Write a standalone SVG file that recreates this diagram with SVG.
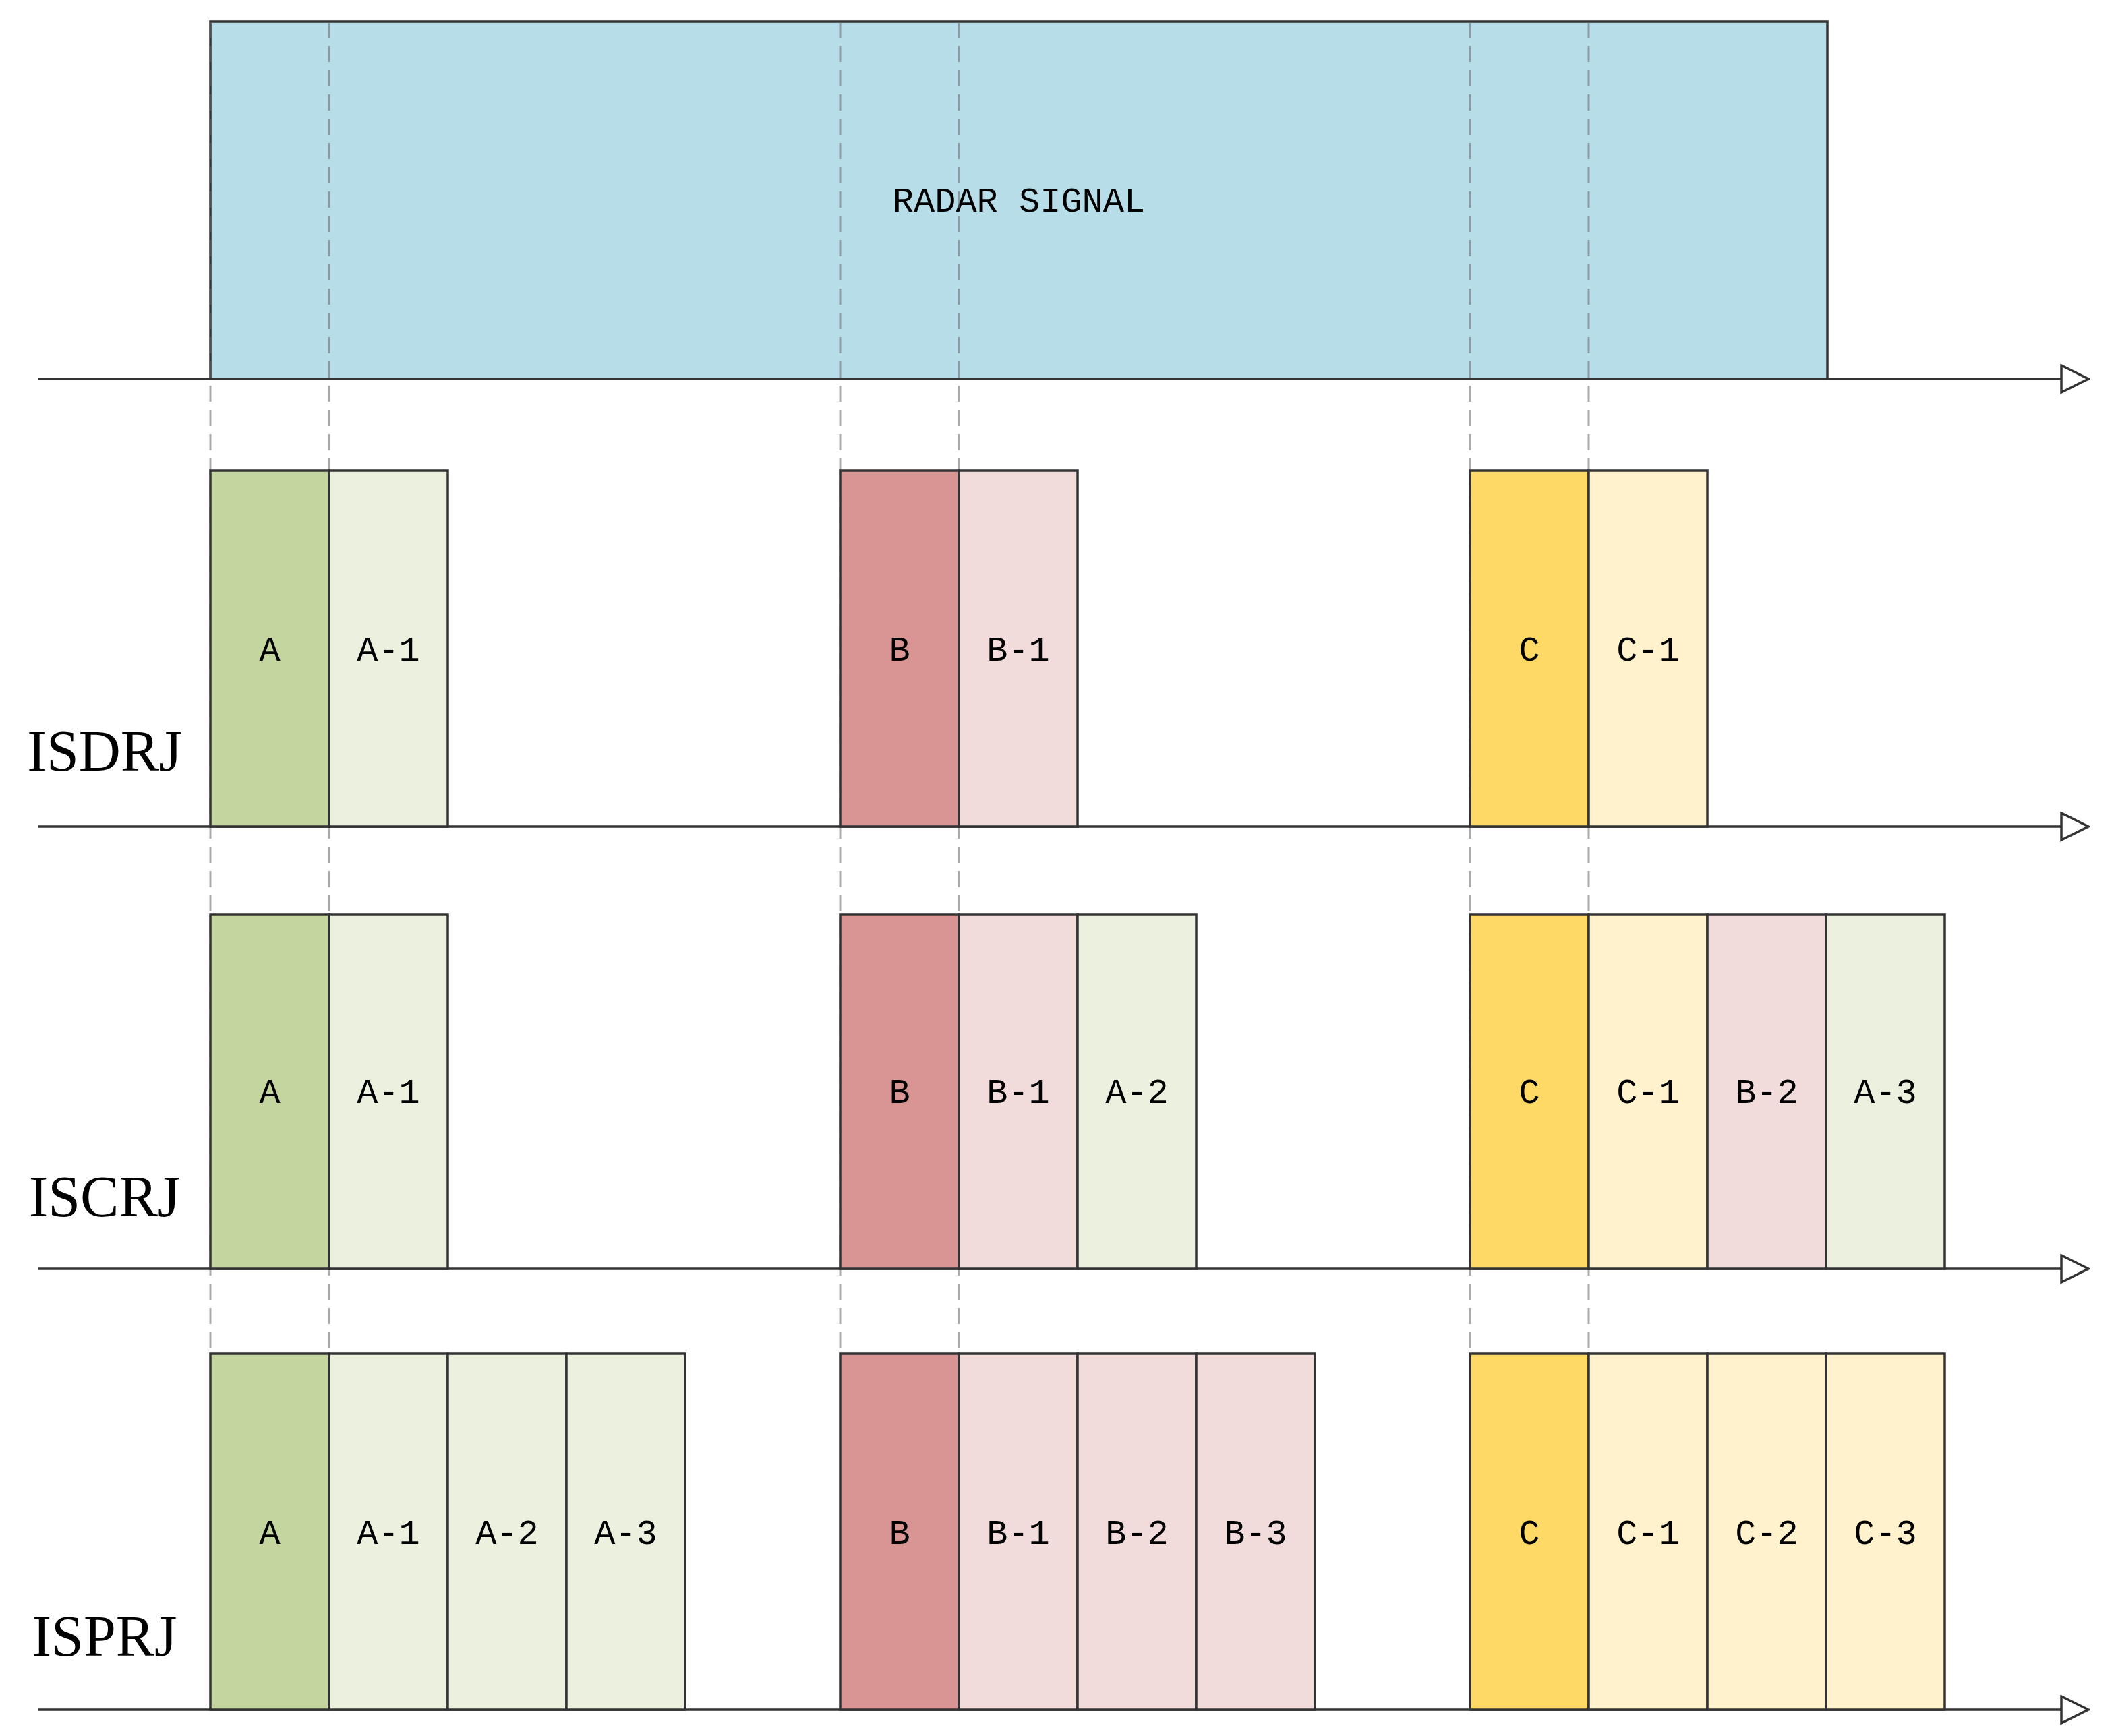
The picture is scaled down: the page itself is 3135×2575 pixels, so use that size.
<svg xmlns="http://www.w3.org/2000/svg" width="3135" height="2575" viewBox="0 0 3135 2575">
<style>
.cell{stroke:#333;stroke-width:3.5}
.ga{fill:#c4d59f}.gl{fill:#ebf1de}
.ra{fill:#d99594}.rl{fill:#f2dcdb}
.ya{fill:#fed966}.yl{fill:#fff2cc}
.t{font-family:"Liberation Mono","DejaVu Sans Mono",monospace;font-size:52px;fill:#000;text-anchor:middle}
.lab{font-family:"Liberation Serif","Times New Roman",serif;font-size:86px;fill:#000;text-anchor:middle}
.axis{stroke:#333;stroke-width:3.5;fill:none}
.dash{stroke:#666;stroke-opacity:0.55;stroke-width:3;stroke-dasharray:24 12;fill:none}
</style>
<defs>
<marker id="arr" markerUnits="userSpaceOnUse" markerWidth="44" markerHeight="46" refX="2" refY="22" orient="auto">
<path d="M2,2 L42,22 L2,42 Z" fill="#fff" stroke="#333" stroke-width="3.5"/>
</marker>
</defs>
<rect width="3135" height="2575" fill="#fff"/>
<g id="radar">
<rect x="312" y="32" width="2398" height="530" fill="#b7dde8" stroke="#333" stroke-width="3.5"/>
<text class="t" x="1511" y="314">RADAR SIGNAL</text>
</g>
<g id="connectors">
<line class="dash" x1="312" y1="32" x2="312" y2="2008"/>
<line class="dash" x1="488" y1="32" x2="488" y2="2008"/>
<line class="dash" x1="1246" y1="32" x2="1246" y2="2008"/>
<line class="dash" x1="1422" y1="32" x2="1422" y2="2008"/>
<line class="dash" x1="2180" y1="32" x2="2180" y2="2008"/>
<line class="dash" x1="2356" y1="32" x2="2356" y2="2008"/>
<line class="axis" x1="56" y1="562" x2="3057" y2="562" marker-end="url(#arr)"/>
<line class="axis" x1="56" y1="1226" x2="3057" y2="1226" marker-end="url(#arr)"/>
<line class="axis" x1="56" y1="1882" x2="3057" y2="1882" marker-end="url(#arr)"/>
<line class="axis" x1="56" y1="2536" x2="3057" y2="2536" marker-end="url(#arr)"/>
</g>
<g id="isdrj">
<text class="lab" x="155" y="1143">ISDRJ</text>
<g id="isdrj-A"><rect class="cell ga" x="312" y="698" width="176" height="528"/><text class="t" x="400" y="980">A</text></g>
<g id="isdrj-A1"><rect class="cell gl" x="488" y="698" width="176" height="528"/><text class="t" x="576" y="980">A-1</text></g>
<g id="isdrj-B"><rect class="cell ra" x="1246" y="698" width="176" height="528"/><text class="t" x="1334" y="980">B</text></g>
<g id="isdrj-B1"><rect class="cell rl" x="1422" y="698" width="176" height="528"/><text class="t" x="1510" y="980">B-1</text></g>
<g id="isdrj-C"><rect class="cell ya" x="2180" y="698" width="176" height="528"/><text class="t" x="2268" y="980">C</text></g>
<g id="isdrj-C1"><rect class="cell yl" x="2356" y="698" width="176" height="528"/><text class="t" x="2444" y="980">C-1</text></g>
</g>
<g id="iscrj">
<text class="lab" x="155" y="1804">ISCRJ</text>
<g id="iscrj-A"><rect class="cell ga" x="312" y="1356" width="176" height="526"/><text class="t" x="400" y="1636">A</text></g>
<g id="iscrj-A1"><rect class="cell gl" x="488" y="1356" width="176" height="526"/><text class="t" x="576" y="1636">A-1</text></g>
<g id="iscrj-B"><rect class="cell ra" x="1246" y="1356" width="176" height="526"/><text class="t" x="1334" y="1636">B</text></g>
<g id="iscrj-B1"><rect class="cell rl" x="1422" y="1356" width="176" height="526"/><text class="t" x="1510" y="1636">B-1</text></g>
<g id="iscrj-A2"><rect class="cell gl" x="1598" y="1356" width="176" height="526"/><text class="t" x="1686" y="1636">A-2</text></g>
<g id="iscrj-C"><rect class="cell ya" x="2180" y="1356" width="176" height="526"/><text class="t" x="2268" y="1636">C</text></g>
<g id="iscrj-C1"><rect class="cell yl" x="2356" y="1356" width="176" height="526"/><text class="t" x="2444" y="1636">C-1</text></g>
<g id="iscrj-B2"><rect class="cell rl" x="2532" y="1356" width="176" height="526"/><text class="t" x="2620" y="1636">B-2</text></g>
<g id="iscrj-A3"><rect class="cell gl" x="2708" y="1356" width="176" height="526"/><text class="t" x="2796" y="1636">A-3</text></g>
</g>
<g id="isprj">
<text class="lab" x="155" y="2456">ISPRJ</text>
<g id="isprj-A"><rect class="cell ga" x="312" y="2008" width="176" height="528"/><text class="t" x="400" y="2290">A</text></g>
<g id="isprj-A1"><rect class="cell gl" x="488" y="2008" width="176" height="528"/><text class="t" x="576" y="2290">A-1</text></g>
<g id="isprj-A2"><rect class="cell gl" x="664" y="2008" width="176" height="528"/><text class="t" x="752" y="2290">A-2</text></g>
<g id="isprj-A3"><rect class="cell gl" x="840" y="2008" width="176" height="528"/><text class="t" x="928" y="2290">A-3</text></g>
<g id="isprj-B"><rect class="cell ra" x="1246" y="2008" width="176" height="528"/><text class="t" x="1334" y="2290">B</text></g>
<g id="isprj-B1"><rect class="cell rl" x="1422" y="2008" width="176" height="528"/><text class="t" x="1510" y="2290">B-1</text></g>
<g id="isprj-B2"><rect class="cell rl" x="1598" y="2008" width="176" height="528"/><text class="t" x="1686" y="2290">B-2</text></g>
<g id="isprj-B3"><rect class="cell rl" x="1774" y="2008" width="176" height="528"/><text class="t" x="1862" y="2290">B-3</text></g>
<g id="isprj-C"><rect class="cell ya" x="2180" y="2008" width="176" height="528"/><text class="t" x="2268" y="2290">C</text></g>
<g id="isprj-C1"><rect class="cell yl" x="2356" y="2008" width="176" height="528"/><text class="t" x="2444" y="2290">C-1</text></g>
<g id="isprj-C2"><rect class="cell yl" x="2532" y="2008" width="176" height="528"/><text class="t" x="2620" y="2290">C-2</text></g>
<g id="isprj-C3"><rect class="cell yl" x="2708" y="2008" width="176" height="528"/><text class="t" x="2796" y="2290">C-3</text></g>
</g>
</svg>
